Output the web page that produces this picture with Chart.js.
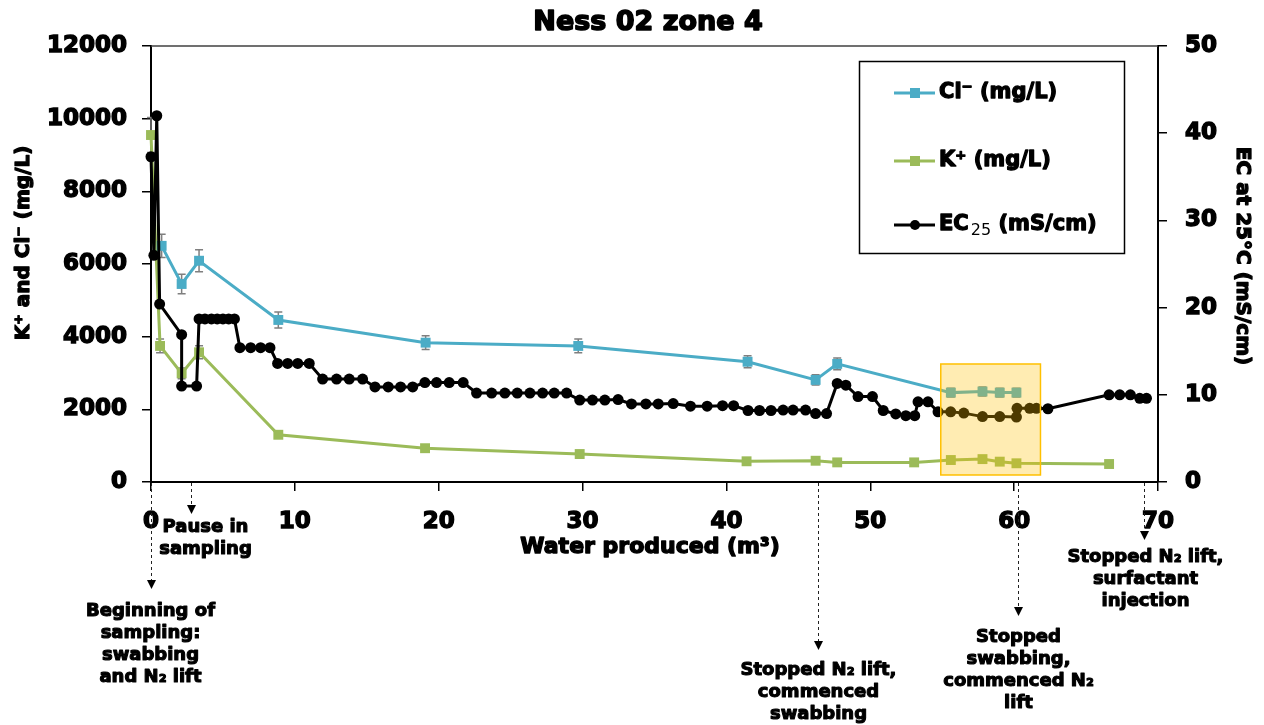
<!DOCTYPE html>
<html>
<head>
<meta charset="utf-8">
<script src="https://cdn.jsdelivr.net/npm/chart.js@4.4.1/dist/chart.umd.min.js"></script>
<style>
  html, body { margin: 0; padding: 0; background: #fff; }
  #wrap { width: 1264px; height: 725px; }
</style>
</head>
<body>
<div id="wrap"><canvas id="chart" width="1264" height="725"></canvas></div>
<script>
// Water produced (m3) and measured concentrations, Ness 02 zone 4
const clX   = [0.74, 2.13, 3.34, 8.85, 19.09, 29.7, 41.47, 46.2, 47.7, 55.6, 57.8, 59.0, 60.16];
const clY   = [6500, 5450, 6090, 4460, 3835, 3745, 3310, 2810, 3250, 2460, 2490, 2460, 2460];
const clErr = [320, 270, 300, 220, 190, 190, 165, 140, 160, 120, 125, 120, 120];

const kX   = [0, 0.63, 2.13, 3.34, 8.85, 19.05, 29.8, 41.4, 46.2, 47.7, 53.05, 55.6, 57.8, 59.0, 60.16, 66.6];
const kY   = [9550, 3745, 2990, 3570, 1300, 930, 770, 570, 585, 540, 540, 605, 630, 560, 515, 495];
const kErr = [480, 190, 150, 180, 65, 45, 40, 30, 30, 27, 27, 30, 32, 28, 26, 25];

const ecX = [0.0, 0.2, 0.4, 0.6, 2.13, 2.13, 3.17, 3.34, 3.75, 4.2, 4.6, 5.0, 5.4, 5.8,
             6.18, 6.93, 7.62, 8.27, 8.8, 9.5, 10.2, 11.0, 11.93, 12.9, 13.78, 14.71,
             15.57, 16.49, 17.35, 18.19, 19.04, 19.85, 20.73, 21.7, 22.63, 23.68, 24.6,
             25.46, 26.34, 27.22, 28.03, 28.89, 29.8, 30.69, 31.55, 32.47, 33.4, 34.4,
             35.26, 36.3, 37.5, 38.66, 39.73, 40.5, 41.5, 42.3, 43.1, 43.94, 44.63, 45.5,
             46.2, 46.96, 47.7, 48.3, 49.15, 50.15, 50.9, 51.77, 52.47, 53.09, 53.32,
             54.01, 54.71, 55.59, 56.5, 57.8, 59.0, 60.16, 60.2, 61.08, 61.55, 62.35,
             66.6, 67.34, 68.08, 68.73, 69.2];
const ecY = [37.3, 26.0, 42.0, 20.4, 16.9, 11.0, 11.0, 18.7, 18.7, 18.7, 18.7, 18.7, 18.7, 18.7,
             15.4, 15.4, 15.4, 15.4, 13.6, 13.6, 13.6, 13.6, 11.8, 11.8, 11.8, 11.8,
             10.9, 10.9, 10.9, 10.9, 11.4, 11.4, 11.4, 11.4, 10.2, 10.2, 10.2,
             10.2, 10.2, 10.2, 10.2, 10.2, 9.4, 9.4, 9.4, 9.45, 8.95, 8.95,
             8.95, 9.0, 8.7, 8.7, 8.75, 8.75, 8.2, 8.2, 8.2, 8.25, 8.25, 8.25,
             7.85, 7.85, 11.3, 11.1, 9.8, 9.8, 8.2, 7.8, 7.6, 7.6, 9.2,
             9.2, 8.05, 8.05, 7.9, 7.5, 7.5, 7.45, 8.45, 8.45, 8.45, 8.4,
             10.0, 10.0, 10.0, 9.6, 9.6];

// Axis ranges and tick steps
const xTicks  = { min: 0, max: 70, step: 10 };
const yLTicks = { min: 0, max: 12000, step: 2000 };
const yRTicks = { min: 0, max: 50, step: 10 };

// Highlighted interval (water produced, left-axis concentration)
const highlightX = [54.9, 61.83];
const highlightY = [193, 3248];

// Operation events along the water-produced axis
const eventX = [0, 2.76, 46.37, 60.25, 69.05];
const eventText = [
  ['Beginning of', 'sampling:', 'swabbing', 'and N\u2082 lift'],
  ['Pause in', 'sampling'],
  ['Stopped N\u2082 lift,', 'commenced', 'swabbing'],
  ['Stopped', 'swabbing,', 'commenced N\u2082', 'lift'],
  ['Stopped N\u2082 lift,', 'surfactant', 'injection']
];

const FAM = "'DejaVu Sans', 'Liberation Sans', sans-serif";
const BLUE = '#4BACC6', GREEN = '#9BBB59', BLACK = '#000000';

const pts = (xs, ys) => xs.map((x, i) => ({ x: x, y: ys[i] }));

// Event arrow layout: arrow tip y, text centre x offset, first text line y
const eventLayout = [
  { tip: 589, dx: -1, y0: 611 },
  { tip: 514, dx: 14, y0: 527 },
  { tip: 650, dx: 0, y0: 670 },
  { tip: 616, dx: 0, y0: 637 },
  { tip: 540, dx: 1, y0: 557 }
];

// heavy text: fill plus a thin outline in the same colour
function heavyText(ctx, text, x, y, w) {
  ctx.save();
  ctx.lineJoin = 'round';
  ctx.lineWidth = w;
  ctx.strokeStyle = ctx.fillStyle;
  ctx.strokeText(text, x, y);
  ctx.fillText(text, x, y);
  ctx.restore();
}

function drawErrorBars(ctx, xs, ys, errs, sx, sy) {
  ctx.save();
  ctx.strokeStyle = '#7F7F7F';
  ctx.lineWidth = 1.5;
  for (let i = 0; i < xs.length; i++) {
    const px = sx.getPixelForValue(xs[i]);
    const top = sy.getPixelForValue(ys[i] + errs[i]);
    const bot = sy.getPixelForValue(ys[i] - errs[i]);
    ctx.beginPath();
    ctx.moveTo(px, top); ctx.lineTo(px, bot);
    ctx.moveTo(px - 4, top); ctx.lineTo(px + 4, top);
    ctx.moveTo(px - 4, bot); ctx.lineTo(px + 4, bot);
    ctx.stroke();
  }
  ctx.restore();
}

const overlay = {
  id: 'overlay',
  beforeDatasetsDraw(chart) {
    const ctx = chart.ctx, s = chart.scales;
    drawErrorBars(ctx, clX, clY, clErr, s.x, s.yL);
    drawErrorBars(ctx, kX, kY, kErr, s.x, s.yL);
  },
  afterDatasetsDraw(chart) {
    const ctx = chart.ctx, s = chart.scales;
    const x1 = s.x.getPixelForValue(highlightX[0]);
    const x2 = s.x.getPixelForValue(highlightX[1]);
    const y1 = s.yL.getPixelForValue(highlightY[1]);
    const y2 = s.yL.getPixelForValue(highlightY[0]);
    ctx.save();
    ctx.fillStyle = 'rgba(255,192,0,0.3)';
    ctx.fillRect(x1, y1, x2 - x1, y2 - y1);
    ctx.strokeStyle = '#FFC000';
    ctx.lineWidth = 1.5;
    ctx.strokeRect(x1, y1, x2 - x1, y2 - y1);
    ctx.restore();
  },
  afterDraw(chart) {
    const ctx = chart.ctx, s = chart.scales, a = chart.chartArea;
    ctx.save();
    // plot frame top edge
    ctx.strokeStyle = '#404040';
    ctx.lineWidth = 1.5;
    ctx.beginPath(); ctx.moveTo(a.left, a.top); ctx.lineTo(a.right, a.top); ctx.stroke();

    ctx.fillStyle = '#000';
    ctx.textAlign = 'center';
    ctx.textBaseline = 'middle';

    // title
    ctx.font = 'bold 27px ' + FAM;
    heavyText(ctx, 'Ness 02 zone 4', 648, 23, 1.6);

    // axis titles
    ctx.font = 'bold 22px ' + FAM;
    heavyText(ctx, 'Water produced (m\u00B3)', 650, 547, 1.4);

    ctx.font = 'bold 20px ' + FAM;
    ctx.save();
    ctx.translate(24, 243); ctx.rotate(-Math.PI / 2);
    heavyText(ctx, 'K\u207A and Cl\u207B (mg/L)', 0, 0, 1.3);
    ctx.restore();
    ctx.save();
    ctx.translate(1242, 256); ctx.rotate(Math.PI / 2);
    heavyText(ctx, 'EC at 25\u00B0C (mS/cm)', 0, 0, 1.3);
    ctx.restore();

    // event arrows and notes
    ctx.font = 'bold 18px ' + FAM;
    for (let i = 0; i < eventX.length; i++) {
      const px = Math.round(s.x.getPixelForValue(eventX[i])) + 0.5;
      const L = eventLayout[i];
      ctx.save();
      ctx.strokeStyle = '#222';
      ctx.lineWidth = 1;
      ctx.setLineDash([3, 3]);
      ctx.beginPath(); ctx.moveTo(px, a.bottom + 1); ctx.lineTo(px, L.tip - 6); ctx.stroke();
      ctx.setLineDash([]);
      ctx.fillStyle = '#000';
      ctx.beginPath();
      ctx.moveTo(px - 4.5, L.tip - 9); ctx.lineTo(px + 4.5, L.tip - 9); ctx.lineTo(px, L.tip);
      ctx.closePath(); ctx.fill();
      ctx.restore();
      eventText[i].forEach((t, j) => heavyText(ctx, t, px + L.dx, L.y0 + j * 22, 1.1));
    }

    // legend
    const bx = 859.5, by = 61.5, bw = 265, bh = 192;
    ctx.strokeStyle = '#000';
    ctx.lineWidth = 1.5;
    ctx.strokeRect(bx, by, bw, bh);
    const rows = [
      { y: 93, color: BLUE, rect: true },
      { y: 161, color: GREEN, rect: true },
      { y: 225, color: BLACK, rect: false }
    ];
    rows.forEach(r => {
      ctx.strokeStyle = r.color;
      ctx.fillStyle = r.color;
      ctx.lineWidth = 3;
      ctx.beginPath(); ctx.moveTo(894, r.y); ctx.lineTo(935, r.y); ctx.stroke();
      if (r.rect) ctx.fillRect(910, r.y - 5, 10, 10);
      else { ctx.beginPath(); ctx.arc(915, r.y, 5, 0, Math.PI * 2); ctx.fill(); }
    });
    ctx.fillStyle = '#000';
    ctx.textAlign = 'left';
    ctx.font = 'bold 21px ' + FAM;
    heavyText(ctx, 'Cl\u207B (mg/L)', 939, 93, 1.3);
    heavyText(ctx, 'K\u207A (mg/L)', 939, 161, 1.3);
    let tx = 939;
    heavyText(ctx, 'EC', tx, 225, 1.3);
    tx += ctx.measureText('EC').width + 1;
    ctx.font = '16px ' + FAM;
    ctx.fillText('25', tx + 1, 231);
    tx += ctx.measureText('25').width + 1;
    ctx.font = 'bold 21px ' + FAM;
    heavyText(ctx, ' (mS/cm)', tx, 225, 1.3);
    ctx.restore();
  }
};

const tickFont = { family: FAM, size: 23, weight: 'bold' };
const plainNumber = v => String(v);
const axisGrid = { drawOnChartArea: false, drawTicks: true, tickLength: 9, color: '#000', lineWidth: 1.5 };
const axisBorder = { display: true, color: '#000', width: 2 };
const tickCommon = { font: tickFont, color: '#000', textStrokeColor: '#000', textStrokeWidth: 1.4, callback: plainNumber };

new Chart(document.getElementById('chart'), {
  type: 'scatter',
  data: {
    datasets: [
      {
        label: 'EC25 (mS/cm)', data: pts(ecX, ecY), yAxisID: 'yR', showLine: true,
        borderColor: BLACK, backgroundColor: BLACK, borderWidth: 3,
        pointStyle: 'circle', pointRadius: 5.5, pointBorderWidth: 0, tension: 0, clip: false
      },
      {
        label: 'Cl- (mg/L)', data: pts(clX, clY), yAxisID: 'yL', showLine: true,
        borderColor: BLUE, backgroundColor: BLUE, borderWidth: 3,
        pointStyle: 'rect', pointRadius: 7, pointBorderWidth: 0, tension: 0, clip: false
      },
      {
        label: 'K+ (mg/L)', data: pts(kX, kY), yAxisID: 'yL', showLine: true,
        borderColor: GREEN, backgroundColor: GREEN, borderWidth: 3,
        pointStyle: 'rect', pointRadius: 7, pointBorderWidth: 0, tension: 0, clip: false
      }
    ]
  },
  options: {
    responsive: false,
    animation: false,
    devicePixelRatio: 1,
    layout: { padding: { top: 46, left: 0, right: 0, bottom: 0 } },
    plugins: { legend: { display: false }, tooltip: { enabled: false }, title: { display: false } },
    scales: {
      x: {
        type: 'linear', position: 'bottom', min: xTicks.min, max: xTicks.max,
        ticks: Object.assign({ stepSize: xTicks.step, padding: 17, maxRotation: 0 }, tickCommon),
        grid: axisGrid, border: axisBorder,
        afterFit(scale) { scale.height = 243; }
      },
      yL: {
        type: 'linear', position: 'left', min: yLTicks.min, max: yLTicks.max,
        ticks: Object.assign({ stepSize: yLTicks.step, padding: 15 }, tickCommon),
        grid: axisGrid, border: axisBorder,
        afterFit(scale) { scale.width = 151; }
      },
      yR: {
        type: 'linear', position: 'right', min: yRTicks.min, max: yRTicks.max,
        ticks: Object.assign({ stepSize: yRTicks.step, padding: 18 }, tickCommon),
        grid: axisGrid, border: axisBorder,
        afterFit(scale) { scale.width = 106; }
      }
    }
  },
  plugins: [overlay]
});
</script>
</body>
</html>
